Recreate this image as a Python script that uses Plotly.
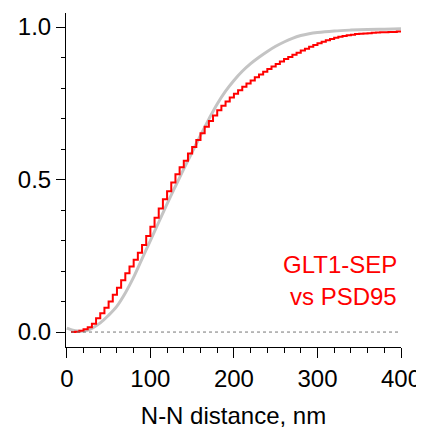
import plotly.graph_objects as go

# Measured cumulative distribution, 5 nm bins (red step curve)
DIST_NM = list(range(5, 405, 5))
CUM_MEASURED = [
    0.000, 0.001, 0.004, 0.009, 0.016, 0.027, 0.045, 0.062, 0.080, 0.100,
    0.122, 0.145, 0.170, 0.193, 0.215, 0.237, 0.260, 0.285, 0.315, 0.345,
    0.375, 0.405, 0.435, 0.462, 0.490, 0.517, 0.540, 0.562, 0.585, 0.607,
    0.630, 0.652, 0.673, 0.692, 0.710, 0.727, 0.742, 0.756, 0.769, 0.781,
    0.793, 0.804, 0.815, 0.825, 0.835, 0.844, 0.853, 0.862, 0.871, 0.879,
    0.887, 0.895, 0.902, 0.909, 0.916, 0.923, 0.929, 0.935, 0.941, 0.947,
    0.952, 0.957, 0.961, 0.965, 0.968, 0.971, 0.973, 0.975, 0.977, 0.978,
    0.979, 0.980, 0.981, 0.982, 0.983, 0.983, 0.984, 0.984, 0.985, 0.985,
]

# Smooth reference curve (grey)
REF_NM = [0, 10, 20, 30, 40, 50, 60, 70, 80, 90, 100, 110, 120, 130, 140,
          150, 160, 170, 180, 190, 200, 210, 220, 230, 240, 250, 260, 270,
          280, 290, 300, 320, 340, 360, 380, 400]
CUM_REF = [0.013, 0.004, 0.003, 0.012, 0.030, 0.055, 0.085, 0.128, 0.180,
           0.240, 0.300, 0.360, 0.420, 0.478, 0.535, 0.590, 0.645, 0.698,
           0.748, 0.790, 0.825, 0.855, 0.880, 0.901, 0.920, 0.937, 0.951,
           0.963, 0.972, 0.978, 0.982, 0.987, 0.990, 0.992, 0.993, 0.994]

X_TICKS = [0, 100, 200, 300, 400]
Y_TICKS = [0.0, 0.5, 1.0]
LABEL_LINES = ["GLT1-SEP", "vs PSD95"]

FONT = "Arial, Liberation Sans, sans-serif"

fig = go.Figure()

fig.add_trace(go.Scatter(
    x=REF_NM, y=CUM_REF, mode="lines",
    line=dict(color="#c4c4c4", width=3, shape="spline"),
    showlegend=False, hoverinfo="skip",
))
fig.add_trace(go.Scatter(
    x=DIST_NM, y=CUM_MEASURED, mode="lines",
    line=dict(color="#ff0000", width=2, shape="hv"),
    showlegend=False,
))

# dotted zero line
fig.add_shape(type="line", x0=5, x1=400, y0=0, y1=0,
              line=dict(color="#777777", width=1, dash="dot"))

for text, yv in zip(LABEL_LINES, [0.223, 0.115]):
    fig.add_annotation(x=398, y=yv, text=text, showarrow=False,
                       xanchor="right", yanchor="middle",
                       font=dict(family=FONT, size=24, color="#ff0000"))

# page is drawn with an 8 px body margin, so margins are trimmed by 8
fig.update_layout(
    width=424, height=434,
    margin=dict(l=58, r=31, t=5, b=95),
    plot_bgcolor="white", paper_bgcolor="white",
    font=dict(family=FONT, size=24, color="black"),
)

fig.update_xaxes(
    range=[-1, 400], tickvals=X_TICKS, ticks="outside", ticklen=10,
    tickwidth=1, tickcolor="black", showline=True, linecolor="black",
    linewidth=1, showgrid=False, zeroline=False,
    minor=dict(dtick=20, ticks="outside", ticklen=5, tickcolor="black",
               showgrid=False),
    title=dict(text="N-N distance, nm", font=dict(size=24), standoff=16),
)
fig.update_yaxes(
    range=[-0.049, 1.046], tickvals=Y_TICKS, tickformat=".1f",
    ticks="outside", ticklen=9, tickwidth=1, tickcolor="black",
    showline=True, linecolor="black", linewidth=1, showgrid=False,
    zeroline=False,
    minor=dict(dtick=0.1, ticks="outside", ticklen=4, tickcolor="black",
               showgrid=False),
)

fig.write_html("out.html")
